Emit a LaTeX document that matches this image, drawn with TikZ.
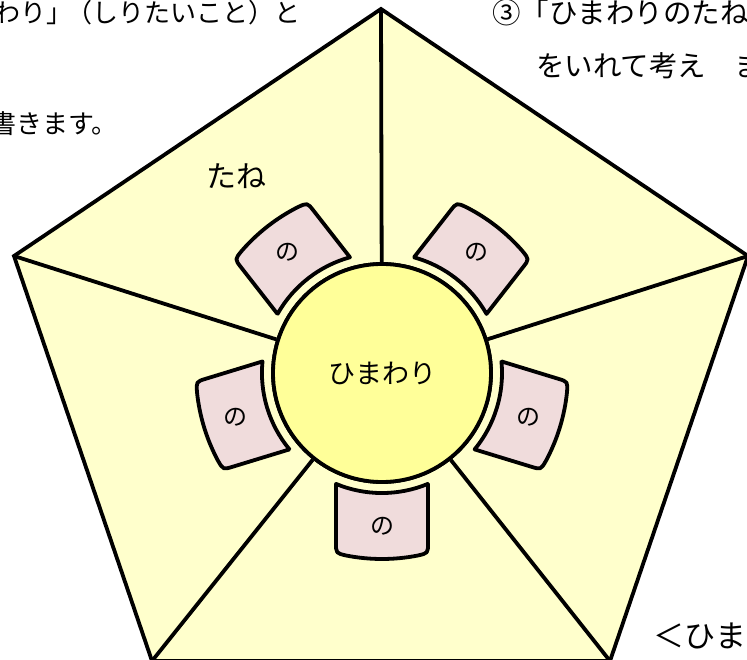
\documentclass[tikz,border=0pt]{standalone}
\usepackage{fontspec}
\setmainfont{Noto Sans CJK JP}
\definecolor{pentafill}{HTML}{FFFFCC}
\definecolor{sunfill}{HTML}{FFFF99}
\definecolor{petalfill}{HTML}{F0DCDC}
\tikzset{
  edge/.style={line width=3.8pt, black},
  sunbox/.style={circle, draw=black, line width=3.8pt, fill=sunfill, minimum size=218pt, inner sep=0pt},
  petalpath/.style={draw=black, line width=3.8pt, fill=petalfill, line join=round},
  petaltext/.style={inner sep=0pt, font=\fontsize{24}{28}\selectfont},
  bodytext/.style={inner sep=0pt, font=\fontsize{26}{30}\selectfont},
  righttext/.style={inner sep=0pt, font=\fontsize{28.5}{32}\selectfont},
}
\newcommand{\mypetal}[3]{%
  \begin{scope}[shift={(C.center)}, rotate=#1]
    \path[petalpath] (110.9,46) -- (170.2,46) .. controls (180.2,46) .. (11.0:186)
      arc[start angle=11.0, end angle=-11.0, radius=186]
      .. controls (180.2,-46) .. (170.2,-46) -- (110.9,-46)
      arc[start angle=-22.5, end angle=22.5, radius=120] -- cycle;
    \node[petaltext, rotate=#3] (#2) at (153,0) {の};
  \end{scope}}
\begin{document}
\begin{tikzpicture}[x=1pt, y=1pt]
\useasboundingbox (0,0) rectangle (747,659);
% pentagon vertices
\coordinate (vt) at (381,650);
\coordinate (vl) at (14,403);
\coordinate (vr) at (748,403);
\coordinate (vbl) at (152,-2);
\coordinate (vbr) at (610,-2);
\path[edge, draw, fill=pentafill, line join=miter] (vt) -- (vr) -- (vbr) -- (vbl) -- (vl) -- cycle;
% centre
\node[sunbox] (C) at (382,286) {};
\foreach \v in {vt,vl,vr,vbl,vbr} \draw[edge] (\v) -- (C);
\node[sunbox, font=\fontsize{27}{30}\selectfont] (C) at (382,286) {ひまわり};
% petals
\mypetal{-90}{pb}{0}
\mypetal{-17}{pr}{0}
\mypetal{52}{ptr}{0}
\mypetal{128}{ptl}{0}
\mypetal{197}{pl}{0}
% texts
\node[bodytext, font=\fontsize{30}{34}\selectfont] (tane) at (236,483) {たね};
\node[bodytext, anchor=base east] (tl1) at (301,636) {わり」\kern-6pt（しりたいこと）と};
\node[bodytext, anchor=base west] (tl2) at (-10,525) {書きます。};
\node[righttext, anchor=base west] (tr1) at (492,635) {③「ひまわりのたね};
\node[righttext, anchor=base west] (tr2) at (536,582) {をいれて考え　ま};
\node[righttext, font=\fontsize{31}{34}\selectfont, anchor=base west] (br) at (653,12) {＜ひま};
\node[bodytext, anchor=base west] (dot) at (-9,210) {。};
\end{tikzpicture}
\end{document}
